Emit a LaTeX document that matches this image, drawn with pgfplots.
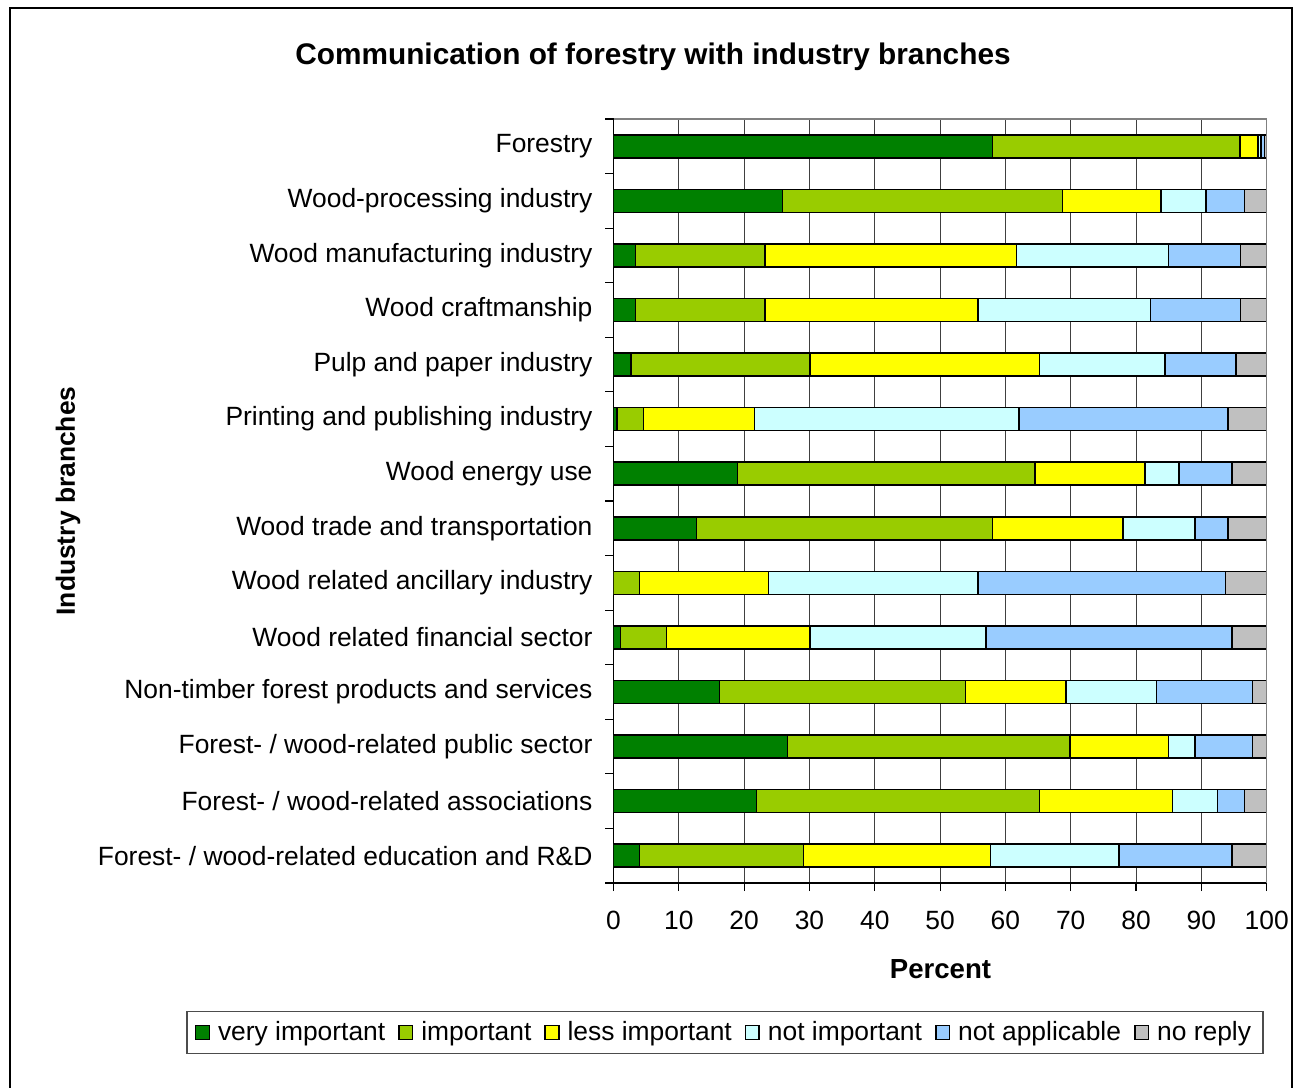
\documentclass[border=0pt]{standalone}
\usepackage{pgfplots}
\pgfplotsset{compat=1.18}
\usepackage{pgfplotstable}
\usepackage{fontspec}
\setmainfont{Liberation Sans}
\definecolor{cVery}{HTML}{008000}
\definecolor{cImp}{HTML}{99CC00}
\definecolor{cLess}{HTML}{FFFF00}
\definecolor{cNot}{HTML}{CCFFFF}
\definecolor{cNA}{HTML}{99CCFF}
\definecolor{cNo}{HTML}{C0C0C0}
\pgfplotstableread{
y a b c d e f
0 58.0 37.9 2.8 0.4 0.6 0.3
1 25.9 42.8 15.1 6.9 5.9 3.4
2 3.4 19.8 38.5 23.3 11.0 4.0
3 3.4 19.8 32.6 26.4 13.8 4.0
4 2.7 27.4 35.1 19.2 10.9 4.7
5 0.5 4.1 17.0 40.5 32.0 5.9
6 19.0 45.5 16.9 5.2 8.1 5.3
7 12.7 45.3 20.0 11.0 5.1 5.9
8 0.0 4.0 19.7 32.1 37.9 6.3
9 1.1 7.0 22.0 26.9 37.7 5.3
10 16.2 37.7 15.4 13.8 14.7 2.2
11 26.6 43.3 15.1 4.0 8.8 2.2
12 21.9 43.3 20.4 6.9 4.1 3.4
13 4.0 25.1 28.6 19.7 17.3 5.3
}\datatable
\begin{document}
\begin{tikzpicture}[font=\fontsize{13.2}{15.8}\selectfont]
\useasboundingbox (-306.75pt,-102pt) rectangle (342.75pt,441.5pt);
\draw[line width=0.8pt] (-301.75pt,-103pt) -- (-301.75pt,437.5pt) -- (339.25pt,437.5pt) -- (339.25pt,-103pt);
\begin{axis}[
  name=ax,
  at={(0pt,0pt)}, anchor=south west,
  scale only axis,
  width=326.6pt, height=382pt,
  xbar stacked,
  bar width=11.5pt,
  xmin=0, xmax=100,
  ymin=-0.5, ymax=13.5,
  y dir=reverse,
  xtick={0,10,...,100},
  ytick={0,...,13},
  yticklabels={Forestry,Wood-processing industry,Wood manufacturing industry,Wood craftmanship,Pulp and paper industry,Printing and publishing industry,Wood energy use,Wood trade and transportation,Wood related ancillary industry,Wood related financial sector,Non-timber forest products and services,Forest- / wood-related public sector,Forest- / wood-related associations,Forest- / wood-related education and R\&D},
  minor ytick={-0.5,0.5,...,13.5},
  major y tick style={draw=none},
  minor tick length=4pt,
  major tick length=4pt,
  tick align=outside,
  xtick pos=bottom,
  ytick pos=left,
  major x tick style={black, line width=0.6pt},
  minor y tick style={black, line width=0.6pt},
  xmajorgrids,
  major grid style={black!75, line width=0.5pt},
  axis line style={black, line width=0.7pt},
  /pgf/number format/assume math mode=true,
  xticklabel style={yshift=-6.5pt},
  yticklabel style={xshift=-3pt},
  every axis plot/.append style={draw=black, line width=0.75pt},
  area legend,
  legend image code/.code={\draw[#1] (0pt,-3.4pt) rectangle (6.8pt,3.4pt);},
  legend columns=6,
  legend style={at={(0.1707,-0.1957)}, anchor=center, draw=black!70, line width=0.6pt,
    /tikz/every odd column/.append style={column sep=2pt},
    /tikz/every even column/.append style={column sep=4.5pt},
    inner xsep=4pt, inner ysep=3pt, font=\fontsize{13.2}{15.8}\selectfont},
  legend cell align=left,
]
\addplot[fill=cVery] table[x=a, y=y] {\datatable};
\addplot[fill=cImp] table[x=b, y=y] {\datatable};
\addplot[fill=cLess] table[x=c, y=y] {\datatable};
\addplot[fill=cNot] table[x=d, y=y] {\datatable};
\addplot[fill=cNA] table[x=e, y=y] {\datatable};
\addplot[fill=cNo] table[x=f, y=y] {\datatable};
\legend{very important, important, less important, not important, not applicable, no reply}
\end{axis}
\draw[black!50, line width=0.6pt] (ax.north west) -- (ax.north east) -- (ax.south east);
\node[font=\bfseries\fontsize{14.9}{17}\selectfont] at (19.75pt,413pt) {Communication of forestry with industry branches};
\node[font=\bfseries\fontsize{13.2}{16}\selectfont, rotate=90] at (-272.75pt,191pt) {Industry branches};
\node[font=\bfseries\fontsize{13.8}{16}\selectfont] at (163.5pt,-43pt) {Percent};
\end{tikzpicture}
\end{document}
